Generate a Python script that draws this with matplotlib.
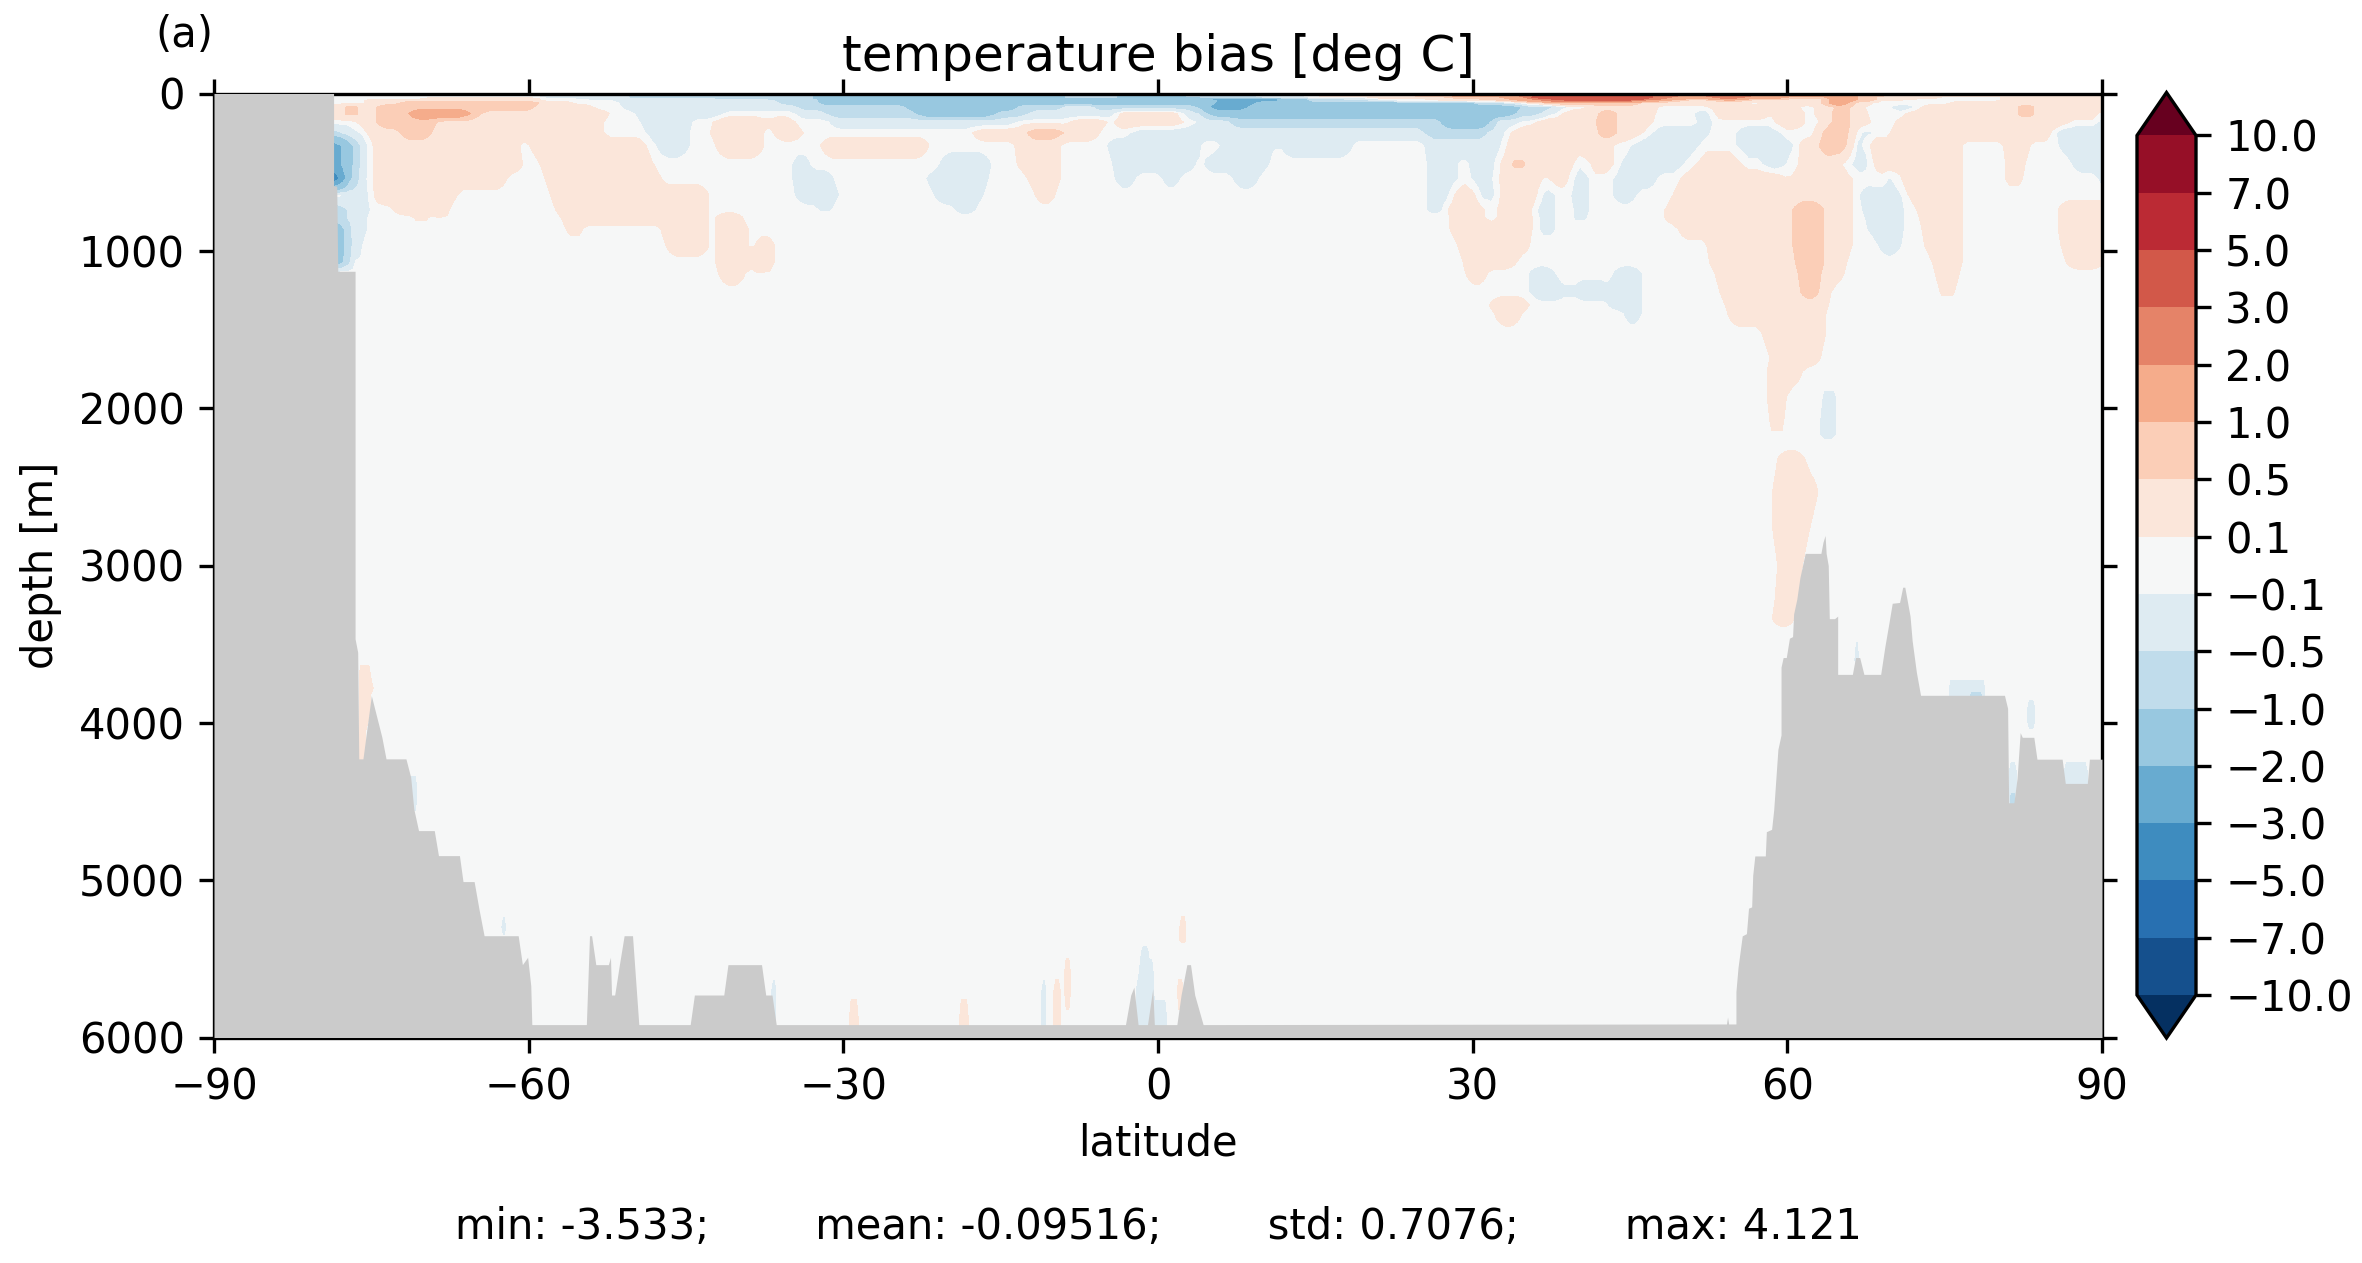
import matplotlib
matplotlib.use("Agg")
import matplotlib.pyplot as plt
import numpy as np
from matplotlib.colors import BoundaryNorm

# colour class of each cell, as a value inside that contour band
CLASS_VALUES = {'.': 0.0, 'a': -0.3, 'b': -0.75, 'c': -1.5, 'd': -2.5, 'e': -4.0,
                'A': 0.3, 'B': 0.75, 'C': 1.5, 'D': 2.5, 'E': 4.0}

LEVELS = [-10, -7, -5, -3, -2, -1, -0.5, -0.1, 0.1, 0.5, 1, 2, 3, 5, 7, 10]

# one row per depth: "start_lat class start_lat class ...", class holds until the next start
DEPTHS = [0, 6, 23, 36, 44, 60, 87, 129, 182, 250, 330, 450, 542, 648, 740, 790, 860, 966, 1072, 1140,
          1263, 1347, 1400, 1523, 1677, 1769, 1923, 2077, 2170, 2240, 2323, 2538, 2754, 3000,
          3215, 3338, 3420, 3600, 3700, 3780, 3825, 3900, 4000, 4060, 4220, 4300, 4400, 4500,
          4600, 5200, 5300, 5380, 5400, 5450, 5600, 5700, 5880, 6000]

BANDS = [
    "-60.6 a -49.7 b -33.8 c -3.6 b 1.9 a 11.7 . 14.8 A 20.35 B 25.3 C 33.9 D 37.6 E 46 D 62.2 C 66.45 B 72.6 A",
    "-60.6 a -49.7 b -33.8 c -3.6 b 1.9 a 11.7 . 14.8 A 20.35 B 25.3 C 33.9 D 37.6 E 46 D 62.2 C 66.45 B 72.6 A",
    "-58.5 a -50.8 b -32.7 c -9.1 b -3.6 c 3.8 b 9.9 a 14.2 . 20.35 A 27.7 B 33 C 35 D 36 E 47 D 49 C 52.9 D 56 C 59.7 B 64 C 66.45 B 68.3 A 74.4 . 80.6 A",
    "-70 A -59 . -55 a -42 b -32.7 c 3 d 11.7 c 14.2 b 18 a 21 . 26 A 31 B 34 C 36 D 38 E 46 D 48 C 50 B 53 C 56 B 60 A 64 C 66.3 B 68.3 A 72 . 80.6 A",
    "-75.4 A -59 . -51.9 a -36.5 b -32.2 c 5.6 d 11.7 c 14.2 b 20.35 a 22.8 . 29 A 33 B 35 C 37 D 46 C 48 B 50 A 53.2 B 56 A 64 C 66.1 B 68.3 . 80.6 A",
    "-75.4 A -72 B -59 A -56 . -51 a -36 b -32 c 5.3 d 9.5 c 30 b 33 a 35 A 37 B 46 A 56 . 58 A 64 C 65.8 A 68 . 76 A",
    "-80 A -77.4 B -76.3 A -74.4 B -59.6 A -54.1 . -50.8 a -34.4 b -23.9 c -13.5 b -9.1 a -6 b 3.8 c 5 d 8.7 c 34.5 b 37.6 a 38.8 . 41.25 A 47.4 . 52.9 A 60.9 . 62.8 A 64.6 B 65.8 A 67.1 . 70.1 a 72 . 73.2 A 82.1 B 83.3 A",
    "-80 A -77.4 B -76.3 A -74.4 B -71.1 C -65.9 B -64.5 A -52.7 . -49.7 a -41.5 . -34.3 a -31.6 b -22.8 c -15.7 b -12.4 a -3.9 A 2.2 a 3.8 b 5 c 33.9 b 36.3 a 37.6 . 38.8 A 42.2 B 43.7 A 47.1 . 51.4 a 52.6 . 53.2 A 58.15 . 59.1 A 61.5 . 62.8 A 64.3 B 65.8 A 67.4 . 71.7 A 82.1 B 83.3 A 89.8 a",
    "-76 A -74.4 B -68.9 A -53 . -49.2 a -44.5 . -42 A -37.6 . -36.8 A -34.9 . -31 a -13.5 . -8 A -5 . -3.9 A 2.2 . 3.8 a 6.8 b 27.1 c 32 a 34.5 . 36.3 A 41.9 B 43.7 A 46.8 . 51.7 a 52.6 . 59.1 A 61.5 . 63.4 A 64.3 B 65.8 A 67.7 . 70.75 A 86.7 . 89.8 a",
    "-80 b -77.9 a -76.3 . -75.2 A -72.2 B -69.4 A -53 . -48.6 a -44.8 . -42.3 A -37.9 . -36.3 A -34.1 . -17.4 A -12.4 B -9.1 A -5.9 . -2.4 a 25.3 b 31.4 a 32.95 . 33.9 A 42.2 B 43.7 A 45.9 . 47.4 a 52.3 . 55.4 a 59.1 . 63.1 B 65.8 A 66.45 . 67.1 a 68 . 70.1 A 85.5 a",
    "-80 d -77.9 c -76.8 b -76 a -75.4 . -74.9 A -61.2 . -59.6 A -49.2 . -47.5 a -44.8 . -41.8 A -37.9 . -31.9 A -22 . -13.3 A -9.7 . -4.7 a 3.8 . 6.2 a 10.8 . 12 a 18.5 . 25.6 a 32.6 . 33.3 A 38.5 B 39.1 A 43.1 . 45.5 a 51.4 . 55.4 a 60.3 . 61.5 A 63.1 B 65.8 . 66.75 a 67.7 A 69.8 . 70.4 A 76.3 . 80.9 A 83 . 86.1 a",
    "-80 d -77.9 c -76.8 b -76.1 a -75.4 . -74.9 A -60.9 . -58.5 A -48.3 . -34.6 a -33.3 . -20.7 a -16 . -13 A -9.7 . -4.1 a 3.4 . 4.7 a 7.75 . 8.7 a 10.5 . 25.9 a 28.3 . 29.9 a 32 . 32.95 A 33.9 B 34.8 A 39.4 . 40.3 a 40.9 . 41.25 A 43.1 . 44.3 a 49.85 . 51.7 A 55.4 . 57.9 a 59.7 . 61.5 A 64.9 . 66.45 a 67.7 . 68.3 A 69.8 . 70.1 A 76.3 . 81.2 A 82.4 . 87.3 a",
    "-80 e -77.9 c -76.8 b -76.3 a -75.4 . -74.9 A -62.3 . -58.2 A -47.5 . -34.6 a -31 . -21.8 a -16.3 . -12.2 A -9.7 . -3.9 a -2.4 . 0.7 a 2 . 7.5 a 9.5 . 25.9 a 28.3 . 30.2 a 31.7 . 32.95 A 36.3 . 37.6 A 38.8 . 40 a 40.9 . 43.7 a 47.4 . 50.2 A 59.7 . 60.6 A 65.8 . 69.8 a 70.6 A 76.3 . 81.2 A 82.1 . 89.8 a",
    "-77.6 a -75.4 . -74.6 A -67.2 . -57.6 A -43.1 . -34.3 a -30.5 . -21.2 a -16.8 . -11.3 A -10.2 . 26 a 27.7 . 28.3 A 30.2 . 30.8 a 32 . 32.8 A 36.3 a 37.7 . 39.7 a 40.9 . 43.7 a 45.5 . 49.5 A 65.8 . 67.1 a 68.6 . 69.2 a 70.75 . 72 A 76.3 .",
    "-80 b -77.4 a -75.4 . -72.7 A -67.8 . -57.1 A -43.1 . -32.2 a -31.3 . -19 a -17.6 . 25.9 a 26.8 . 28 A 30.8 . 32.6 A 35.4 . 36.5 a 37.7 . 39.9 a 40.8 . 48.6 A 60.6 B 63.4 A 65.8 . 67.4 a 71 . 72.6 A 76.3 . 86.2 A",
    "-80 b -77.4 a -75.5 . -70.6 A -69.9 . -68.3 A -67.9 . -56.5 A -52.2 . -52 A -47.5 A -43.1 . -41.8 A -39.8 . 28.2 A 30.8 . 32.6 A 35.4 . 36.6 a 37.6 . 39.9 a 40.6 . 48.6 A 60.6 B 63.4 A 65.8 . 67.7 a 71 . 72.9 A 76.3 . 86.2 A",
    "-80 c -77.6 b -77.1 a -75.7 . -56 A -55 . -47 A -43.1 . -41.8 A -39.3 . 26.2 a 26.6 . 28.2 A 35.4 . 36.6 a 37.6 . 49.85 A 52.3 . 52.6 A 60.6 B 63.4 A 65.8 . 68 a 71 . 73.2 A 76.3 . 86.2 A",
    "-80 c -77.4 a -76 . -46.7 A -43.1 . -41.8 A -39.3 . -38.2 A -36.8 . 29 A 35.1 . 52.6 A 60.6 B 63.4 A 65.8 . 68.9 a 70.75 . 73.5 A 76.3 . 86.4 A",
    "-80 c -77.4 . -76.8 a -76.3 . -41.8 A -38.7 . -38.5 A -36.8 . 29.3 A 33.9 . 52.9 A 60.9 B 63.4 A 65.5 . 74.1 A 76.3 . 87 A 89.8 .",
    "-41.5 A -39.6 . -37.9 A -37.4 . 29.6 A 31.1 . 35.7 a 37.6 . 43.7 a 45.9 . 53.5 A 61.2 B 63.1 A 65.2 . 74.4 A 76.2 .",
    "35.6 a 38.8 . 39.7 a 43.1 . 43.7 a 45.9 . 53.85 A 61.5 B 62.8 A 64 . 75 A 75.7 .",
    "32 A 35.1 . 43.1 a 45.9 . 54.5 A 63.7 .",
    "32.5 A 34.5 . 44.6 a 45.9 . 54.7 A 63.4 . 74.5 A 75 .",
    "58 A 63.3 .",
    "58.7 A 62.8 .",
    "58.5 A 61.2 .",
    "58.3 A 59.6 . 63.6 a 64.5 .",
    "58.7 A 59.5 . 63.3 a 64.5 .",
    "58.9 A 59.3 . 63.4 a 64.4 .",
    "",
    "59.5 A 61.5 .",
    "58.8 A 62.6 .",
    "59 A 62 .",
    "59.3 A 61.2 .",
    "59.1 A 60.9 .",
    "59 A 60.3 .",
    "",
    "66.3 a 66.8 .",
    "-76.2 A -75 .",
    "-76.2 A -74.8 . 75.5 a 79 .",
    "-76.2 A -75 . 75.5 a 77.5 b 78.6 a 79 .",
    "-76.2 A -75.2 . 83 a 83.6 .",
    "-76.2 A -75.4 . 83 a 83.6 .",
    "-76.2 A -75.5 .",
    "-76.2 A -75.6 .",
    "81.1 a 81.8 . 86.3 a 88.7 .",
    "-71.5 a -70.6 . 81.1 a 81.8 . 86.3 a 88.7 .",
    "-71 a -70.5 . 81.2 b 81.8 .",
    "",
    "",
    "-62.6 a -62.2 . 2.1 A 2.7 .",
    "2.1 A 2.7 .",
    "",
    "-1.6 a -0.8 .",
    "-8.9 A -8.4 . -1.9 a -0.35 .",
    "-36.8 a -36.4 . -11 a -10.6 . -9.9 A -9.4 . -8.9 A -8.4 . -2 a -0.35 . 1.8 A 2.3 .",
    "-36.8 a -36.4 . -29.3 A -28.7 . -18.8 A -18.2 . -11 a -10.6 . -9.9 A -9.4 . -2 a 0.9 .",
    "-36.8 a -36.4 . -29.3 A -28.7 . -18.8 A -18.2 . -11 a -10.6 . -9.9 A -9.4 . -2 a 0.9 .",
]

FLOOR_LAT = [-90, -78.6, -78.6, -78.3, -78.2, -76.55, -76.55, -76.3, -76.2, -75.8, -75.0, -74.0, -73.6,
             -71.7, -71.25, -70.95, -70.5, -69.0, -68.6, -66.6, -66.26, -65.2, -64.74, -64.25, -61.0,
             -60.6, -60.1, -59.8, -59.7, -54.5, -54.2, -54.0, -53.6, -52.4, -52.2, -52.1, -51.8, -51.35,
             -50.9, -50.1, -49.5, -44.6, -44.2, -41.4, -41.0, -37.8, -37.4, -36.8, -36.4, -3.1, -2.6,
             -2.3, -1.9, -1.0, -0.5, -0.35, 0.9, 1.8, 2.2, 2.75, 3.1, 3.5, 4.3,
             54.2, 54.3, 54.4, 55.1, 55.1, 55.3, 55.7, 56.1, 56.3, 56.6, 56.7, 56.9, 57.9, 58.0, 58.5,
             58.7, 59.1, 59.4, 59.4, 59.6, 59.9, 60.2, 60.5, 60.6, 60.9, 61.2, 61.7, 62.6, 63.2, 63.4,
             63.6, 63.7, 63.9, 64.0, 64.5, 64.8, 64.8, 66.2, 66.5, 66.9, 67.3, 68.9, 69.3, 69.7, 70.0,
             70.7, 71.0, 71.2, 71.7, 71.9, 72.3, 72.7, 80.7, 81.0, 81.1, 81.6, 81.9, 82.2, 82.4, 83.5,
             83.8, 86.2, 86.5, 88.6, 88.8, 90]
FLOOR_DEPTH = [0, 0, 585, 590, 1130, 1130, 3466, 3552, 4229, 4229, 3827, 4090, 4229,
               4229, 4345, 4548, 4685, 4685, 4844, 4844, 5009, 5009, 5183, 5353, 5353,
               5537, 5490, 5670, 5918, 5918, 5353, 5353, 5537, 5537, 5490, 5730, 5730, 5537,
               5353, 5353, 5918, 5918, 5730, 5730, 5537, 5537, 5730, 5730, 5918, 5918, 5730,
               5680, 5918, 5918, 5690, 5918, 5918, 5918, 5730, 5537, 5537, 5730, 5918,
               5914, 5870, 5914, 5914, 5708, 5554, 5354, 5340, 5178, 5170, 4969, 4846, 4846, 4692, 4677,
               4554, 4169, 4077, 3646, 3585, 3585, 3462, 3452, 3308, 3215, 3077, 2923, 2923, 2923, 2852,
               2809, 2923, 3000, 3338, 3338, 3322, 3692, 3692, 3585, 3585, 3692, 3692, 3515, 3360, 3240,
               3235, 3138, 3138, 3322, 3478, 3677, 3825, 3825, 3908, 4508, 4508, 4354, 4062, 4092, 4092,
               4231, 4231, 4385, 4385, 4231, 4231]

LAT_TICKS = [-90, -60, -30, 0, 30, 60, 90]
DEPTH_TICKS = [0, 1000, 2000, 3000, 4000, 5000, 6000]
STATS = "min: -3.533;        mean: -0.09516;        std: 0.7076;        max: 4.121"


def rasterize_bands(bands, lats):
    field = np.zeros((len(bands), len(lats)))
    for i, band in enumerate(bands):
        parts = band.split()
        starts = [float(p) for p in parts[0::2]]
        codes = parts[1::2]
        for j, lat in enumerate(lats):
            k = np.searchsorted(starts, lat, side='right') - 1
            if k >= 0:
                field[i, j] = CLASS_VALUES[codes[k]]
    return field


def soften_edges(field, depths, width=7, max_depth=3500):
    # band edges read row by row would leave stairs in the contours
    out = field.copy()
    kernel = np.ones(width) / width
    for i, depth in enumerate(depths):
        if depth <= max_depth:
            padded = np.pad(field[i], width // 2, mode='edge')
            out[i] = np.convolve(padded, kernel, mode='valid')
    return out


W, H = 2362, 1263
fig = plt.figure(figsize=(W / 300, H / 300), dpi=300)
ax = fig.add_axes([214 / W, 1 - 1037.5 / H, (2102 - 214) / W, (1037.5 - 93.5) / H])

lats = np.arange(-80, 90.01, 0.25)
field = soften_edges(rasterize_bands(BANDS, lats), DEPTHS)
norm = BoundaryNorm(LEVELS, 256, extend='both')
cf = ax.contourf(lats, DEPTHS, field, levels=LEVELS, cmap='RdBu_r', norm=norm, extend='both')
ax.fill_between(FLOOR_LAT, FLOOR_DEPTH, 6000, color='#cbcbcb', lw=0, zorder=3)

ax.set_xlim(-90, 90)
ax.set_ylim(6000, 0)
ax.set_xticks(LAT_TICKS)
ax.set_yticks(DEPTH_TICKS)
ax.tick_params(top=True, right=True)
ax.set_xlabel('latitude', labelpad=3.2)
ax.set_ylabel('depth [m]')
ax.set_title('temperature bias [deg C]', fontsize=12, pad=5.5)
ax.set_axisbelow(False)

cax = fig.add_axes([2137 / W, 1 - 1038 / H, (2196 - 2137) / W, (1038 - 92.5) / H])
cbar = fig.colorbar(cf, cax=cax, extend='both')
cbar.set_ticks(LEVELS, labels=[f"{float(v):.1f}".replace('-', '\u2212') for v in LEVELS])
cbar.ax.minorticks_off()

fig.text(155 / W, 1 - 35 / H, '(a)', fontsize=10, ha='left', va='center')
fig.text(0.5 * (214 + 2102) / W, 1 - 1226.5 / H, STATS, fontsize=10, ha='center', va='center')

fig.savefig('out.png', dpi=300)
